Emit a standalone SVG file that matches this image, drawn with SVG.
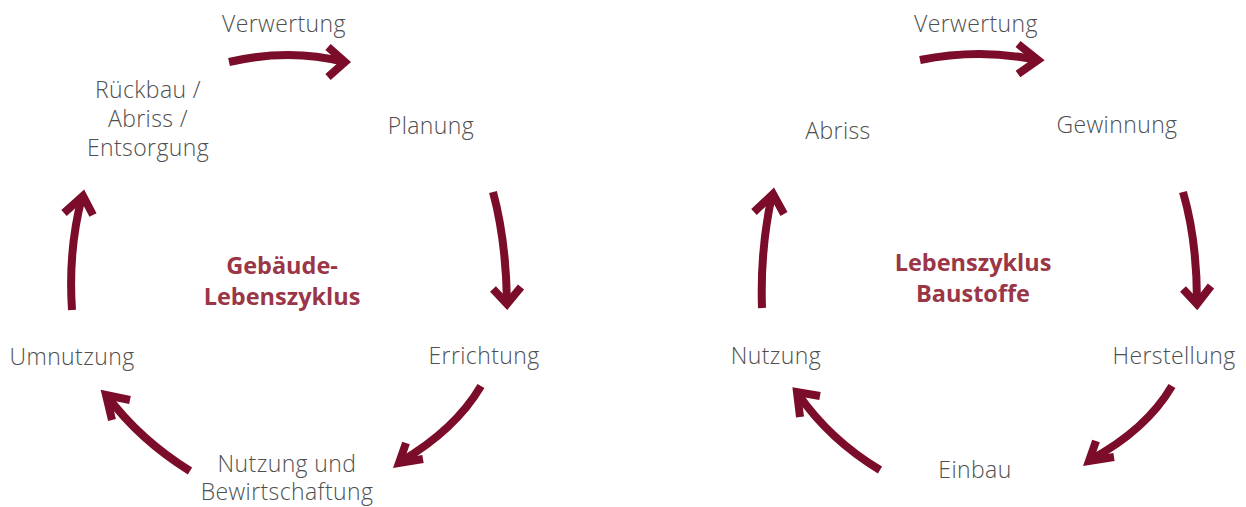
<svg xmlns="http://www.w3.org/2000/svg" width="1246" height="507" viewBox="0 0 1246 507">
<style>
.lbl{font-family:"Open Sans","Noto Sans",sans-serif;font-size:23px;font-weight:300;fill:#4f4f4f;text-anchor:middle;letter-spacing:0.4px}
.ttl{font-family:"Open Sans","Noto Sans",sans-serif;font-size:23.5px;font-weight:700;fill:#9a3646;text-anchor:middle}
.shaft,.head{fill:none;stroke:#7b0c2a;stroke-width:8}
.head{stroke-linejoin:miter;stroke-miterlimit:10}
</style>
<rect width="1246" height="507" fill="#fff"/>
<g id="left-cycle">
<g id="n-verwertung-l"><text class="lbl" x="284" y="32">Verwertung</text></g>
<g id="n-rueckbau"><text class="lbl" x="148" y="98">Rückbau /</text><text class="lbl" x="148" y="127">Abriss /</text><text class="lbl" x="148" y="156">Entsorgung</text></g>
<g id="n-planung"><text class="lbl" x="431" y="134">Planung</text></g>
<g id="n-title-l"><text class="ttl" x="282" y="274">Gebäude-</text><text class="ttl" x="282" y="305">Lebenszyklus</text></g>
<g id="n-umnutzung"><text class="lbl" x="72" y="365">Umnutzung</text></g>
<g id="n-errichtung"><text class="lbl" x="484" y="364">Errichtung</text></g>
<g id="n-nutzung-l"><text class="lbl" x="287" y="472">Nutzung und</text><text class="lbl" x="287" y="500">Bewirtschaftung</text></g>
</g>
<g id="right-cycle">
<g id="n-verwertung-r"><text class="lbl" x="976" y="32">Verwertung</text></g>
<g id="n-gewinnung"><text class="lbl" x="1117" y="133">Gewinnung</text></g>
<g id="n-abriss"><text class="lbl" x="838" y="139">Abriss</text></g>
<g id="n-title-r"><text class="ttl" x="973" y="271">Lebenszyklus</text><text class="ttl" x="973" y="302">Baustoffe</text></g>
<g id="n-nutzung-r"><text class="lbl" x="776" y="364">Nutzung</text></g>
<g id="n-herstellung"><text class="lbl" x="1174" y="364">Herstellung</text></g>
<g id="n-einbau"><text class="lbl" x="975" y="478">Einbau</text></g>
</g>
<g id="connectors">
<path class="shaft" d="M229,62 Q290,48 344,62"/><polyline class="head" points="328,47 345,62 328,77"/>
<path class="shaft" d="M493,192 Q506,240 507,302"/><polyline class="head" points="493,289 507,304 521,287"/>
<path class="shaft" d="M481,386 Q455,430 400,462"/><polyline class="head" points="406,443 399,463 423,459"/>
<path class="shaft" d="M190,471 Q140,440 107,396"/><polyline class="head" points="130,400 106,395 112,420"/>
<path class="shaft" d="M72,310 Q68,250 82,197"/><polyline class="head" points="64,213 83,196 93,215"/>
<path class="shaft" d="M920,60 Q980,48 1037,60"/><polyline class="head" points="1018,44 1038,60 1018,74"/>
<path class="shaft" d="M1183,192 Q1197,240 1197,302"/><polyline class="head" points="1183,289 1197,304 1211,286"/>
<path class="shaft" d="M1172,386 Q1146,430 1090,460"/><polyline class="head" points="1096,441 1089,461 1114,457"/>
<path class="shaft" d="M880,470 Q830,440 798,394"/><polyline class="head" points="820,396 797,392 800,417"/>
<path class="shaft" d="M762,308 Q760,250 772,195"/><polyline class="head" points="754,212 773,194 784,214"/>
</g>
</svg>
